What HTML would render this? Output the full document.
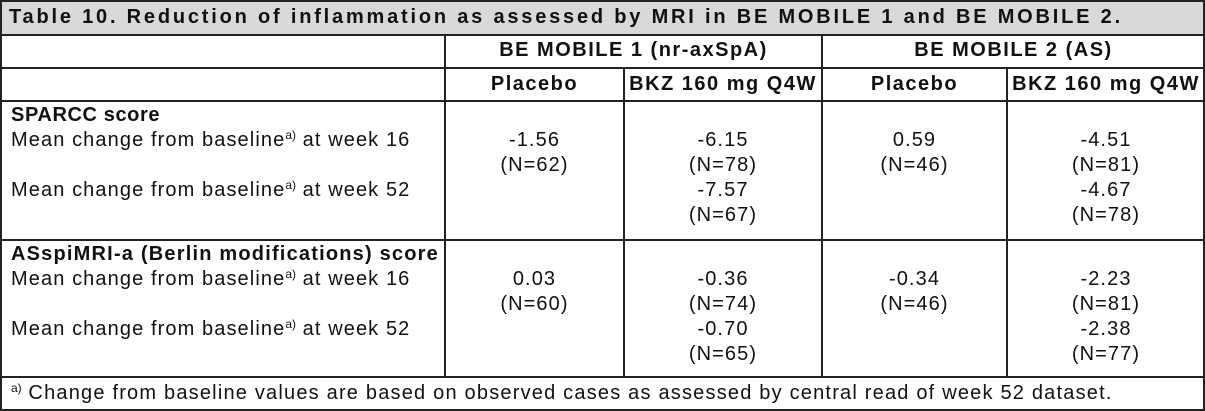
<!DOCTYPE html>
<html><head><meta charset="utf-8"><style>
body{margin:0;width:1205px;height:411px;background:#fff;font-family:"Liberation Sans",Arial,sans-serif;color:#111;overflow:hidden;position:relative}
.h{position:absolute;left:0;width:1205px;height:2px;background:#222}
.v{position:absolute;width:2px;background:#222}
.t{position:absolute;font-size:20px;line-height:25px;white-space:nowrap;letter-spacing:1.1px}
.c{text-align:center}
.b{font-weight:bold}
sup{font-size:12px;vertical-align:7px;line-height:0;letter-spacing:0}
</style></head><body>
<div style="position:absolute;left:0;top:0;width:1205px;height:34px;background:#d9d9d9"></div>
<div class="h" style="top:0"></div><div class="h" style="top:34px"></div><div class="h" style="top:67px"></div><div class="h" style="top:100px"></div><div class="h" style="top:239px"></div><div class="h" style="top:376px"></div><div class="h" style="top:409px"></div>
<div class="v" style="left:0;top:0;height:411px"></div><div class="v" style="left:1203px;top:0;height:411px"></div>
<div class="v" style="left:444px;top:34px;height:342px"></div>
<div class="v" style="left:623px;top:67px;height:309px"></div>
<div class="v" style="left:821px;top:34px;height:342px"></div>
<div class="v" style="left:1006px;top:67px;height:309px"></div>

<div class="t b" style="left:9px;top:5px;letter-spacing:2.8px">Table 10. Reduction of inflammation as assessed by MRI in BE MOBILE 1 and BE MOBILE 2.</div>
<div class="t b c" style="left:446px;width:375px;top:38px;letter-spacing:1.5px">BE MOBILE 1 (nr-axSpA)</div>
<div class="t b c" style="left:823px;width:381px;top:38px;letter-spacing:1.5px">BE MOBILE 2 (AS)</div>
<div class="t b c" style="left:446px;width:177px;top:72px;letter-spacing:1.5px">Placebo</div>
<div class="t b c" style="left:625px;width:196px;top:72px;letter-spacing:1.5px">BKZ 160 mg Q4W</div>
<div class="t b c" style="left:823px;width:183px;top:72px;letter-spacing:1.5px">Placebo</div>
<div class="t b c" style="left:1008px;width:196px;top:72px;letter-spacing:1.5px">BKZ 160 mg Q4W</div>

<div class="t" style="left:11px;top:103px"><b style="letter-spacing:0.6px">SPARCC score</b><br>Mean change from baseline<sup>a)</sup> at week 16<br><br>Mean change from baseline<sup>a)</sup> at week 52</div>
<div class="t c" style="left:446px;width:177px;top:128px">-1.56<br>(N=62)</div>
<div class="t c" style="left:625px;width:196px;top:128px">-6.15<br>(N=78)<br>-7.57<br>(N=67)</div>
<div class="t c" style="left:823px;width:183px;top:128px">0.59<br>(N=46)</div>
<div class="t c" style="left:1008px;width:196px;top:128px">-4.51<br>(N=81)<br>-4.67<br>(N=78)</div>

<div class="t" style="left:11px;top:242px"><b style="letter-spacing:1.2px">ASspiMRI-a (Berlin modifications) score</b><br>Mean change from baseline<sup>a)</sup> at week 16<br><br>Mean change from baseline<sup>a)</sup> at week 52</div>
<div class="t c" style="left:446px;width:177px;top:267px">0.03<br>(N=60)</div>
<div class="t c" style="left:625px;width:196px;top:267px">-0.36<br>(N=74)<br>-0.70<br>(N=65)</div>
<div class="t c" style="left:823px;width:183px;top:267px">-0.34<br>(N=46)</div>
<div class="t c" style="left:1008px;width:196px;top:267px">-2.23<br>(N=81)<br>-2.38<br>(N=77)</div>

<div class="t" style="left:11px;top:381px;letter-spacing:1.2px"><sup>a)</sup> Change from baseline values are based on observed cases as assessed by central read of week 52 dataset.</div>
</body></html>
